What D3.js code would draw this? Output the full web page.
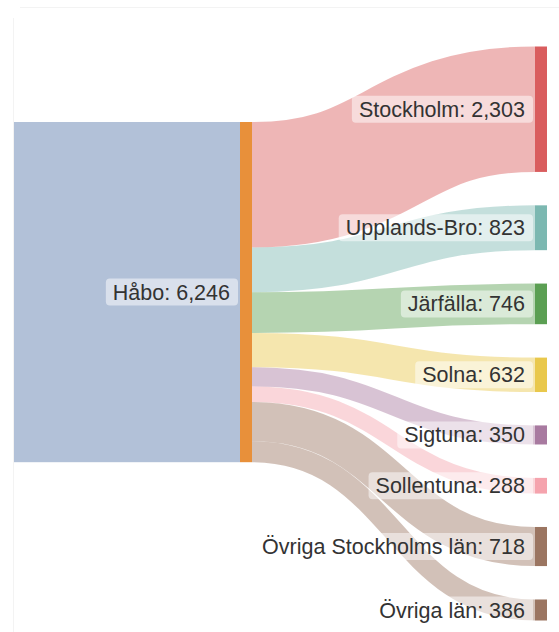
<!DOCTYPE html>
<html>
<head>
<meta charset="utf-8">
<script src="https://cdn.jsdelivr.net/npm/d3@7"></script>
<style>
  body { margin: 0; background: #fff; }
  svg { display: block; }
  text { font-family: "Liberation Sans", Arial, sans-serif; }
</style>
</head>
<body>
<script>
var sourceName = "Håbo";
var targets = ["Stockholm", "Upplands-Bro", "Järfälla", "Solna", "Sigtuna", "Sollentuna", "Övriga Stockholms län", "Övriga län"];
var values = [2303, 823, 746, 632, 350, 288, 718, 386];
var colors = ["#d95d5e", "#7cb8b1", "#5b9f53", "#e9c84c", "#a87aa0", "#f5a3ad", "#9b7561", "#9b7561"];

var width = 559, height = 632;
var total = d3.sum(values);

// layout
var plotTop = 46.5, plotBottom = 620.5, padding = 33.4;
var nodeW = 12;
var leftX = 14, midX = 240, rightX = 535;
var midTop = 122;

var k = (plotBottom - plotTop - padding * (targets.length - 1)) / total;
var y = d3.scaleLinear().domain([0, total]).range([0, total * k]);

var svg = d3.select("body").append("svg")
    .attr("width", width)
    .attr("height", height);

// faint frame lines
svg.append("line").attr("x1", 20).attr("x2", width).attr("y1", 7.5).attr("y2", 7.5)
    .attr("stroke", "#f3f3f3");
svg.append("line").attr("x1", 13.5).attr("x2", 13.5).attr("y1", 18).attr("y2", height)
    .attr("stroke", "#f3f3f3");

// compute node + link positions
var nodes = [];
var yR = plotTop, yL = midTop;
targets.forEach(function(t, i) {
  var h = y(values[i]);
  nodes.push({name: t, value: values[i], color: colors[i], width: h,
              y0: yR, y1: yR + h, sy: yL + h / 2, ty: yR + h / 2});
  yR += h + padding;
  yL += h;
});
var midH = y(total);

// source block
svg.append("rect")
    .attr("x", leftX).attr("y", midTop)
    .attr("width", midX - leftX).attr("height", midH)
    .attr("fill", "#b2c1d8");

var link = d3.linkHorizontal()
    .source(function(d) { return [midX + nodeW, d.sy]; })
    .target(function(d) { return [rightX, d.ty]; });

svg.append("g")
    .attr("fill", "none")
  .selectAll("path")
    .data(nodes)
  .enter().append("path")
    .attr("d", link)
    .attr("stroke", function(d) { return d.color; })
    .attr("stroke-opacity", 0.45)
    .attr("stroke-width", function(d) { return d.width; });

// middle node
svg.append("rect")
    .attr("x", midX).attr("y", midTop)
    .attr("width", nodeW).attr("height", midH)
    .attr("fill", "#e8903a");

// target nodes
svg.append("g").selectAll("rect")
    .data(nodes)
  .enter().append("rect")
    .attr("x", rightX).attr("y", function(d) { return d.y0; })
    .attr("width", nodeW).attr("height", function(d) { return d.y1 - d.y0; })
    .attr("fill", function(d) { return d.color; });

var fmt = d3.format(",");

function label(g, xEnd, yc, str) {
  var box = g.append("rect");
  var t = g.append("text")
      .attr("x", xEnd).attr("y", yc)
      .attr("dy", "0.35em")
      .attr("text-anchor", "end")
      .attr("fill", "#333")
      .style("font-size", "21.5px")
      .text(str);
  var w = t.node().getComputedTextLength();
  box.attr("x", xEnd - w - 7).attr("y", yc - 13.5)
      .attr("width", w + 15).attr("height", 27)
      .attr("rx", 4)
      .attr("fill", "#fff").attr("fill-opacity", 0.5);
}

var labels = svg.append("g");
nodes.forEach(function(d) {
  label(labels.append("g"), rightX - 10, (d.y0 + d.y1) / 2, d.name + ": " + fmt(d.value));
});
label(labels.append("g"), midX - 10, midTop + midH / 2, sourceName + ": " + fmt(total));
</script>
</body>
</html>
